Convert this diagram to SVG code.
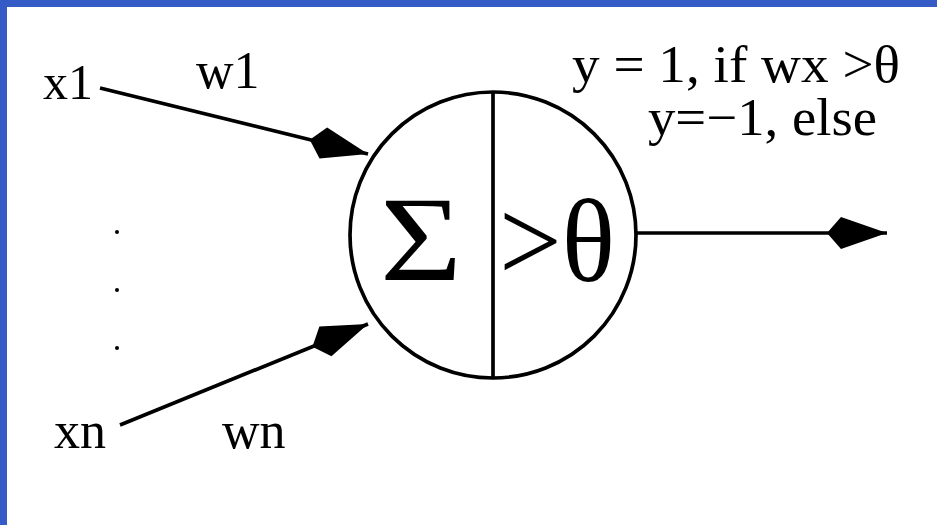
<svg xmlns="http://www.w3.org/2000/svg" width="937" height="525" viewBox="0 0 937 525">
<style>
.t{font-family:"Liberation Serif","Times New Roman",serif;fill:#000}
.c{stroke:#000;stroke-width:3.7;fill:none}
</style>
<defs>
<marker id="ah" markerUnits="userSpaceOnUse" markerWidth="64" markerHeight="40" refX="60" refY="20" orient="auto" viewBox="0 0 64 40">
<path d="M0,20 L14,4 L60,20 L14,36 Z" fill="#000"/>
</marker>
</defs>
<rect width="937" height="525" fill="#fff"/>
<rect x="0" y="0" width="937" height="7" fill="#355CC6"/>
<rect x="0" y="0" width="7" height="525" fill="#355CC6"/>
<g id="connectors">
<line class="c" x1="100" y1="88" x2="368" y2="154" marker-end="url(#ah)"/>
<line class="c" x1="120" y1="425" x2="368" y2="324" marker-end="url(#ah)"/>
<line class="c" x1="637" y1="233" x2="887" y2="233" marker-end="url(#ah)"/>
</g>
<g id="neuron">
<circle class="c" cx="493" cy="235" r="143"/>
<line class="c" x1="493" y1="92" x2="493" y2="378"/>
<text class="t" x="380" y="280" font-size="120" textLength="82" lengthAdjust="spacingAndGlyphs">Σ</text>
<text class="t" x="499" y="281" font-size="118" textLength="116" lengthAdjust="spacingAndGlyphs">&gt;θ</text>
</g>
<g id="inputs">
<text class="t" x="43" y="99" font-size="50">x1</text>
<text class="t" x="54" y="448" font-size="52">xn</text>
<circle cx="117" cy="232" r="2" fill="#000"/>
<circle cx="117" cy="290" r="2" fill="#000"/>
<circle cx="117" cy="348" r="2" fill="#000"/>
</g>
<g id="weights">
<text class="t" x="196" y="88" font-size="52">w1</text>
<text class="t" x="222" y="448" font-size="52">wn</text>
</g>
<g id="output-rule">
<text class="t" x="572" y="82" font-size="52" textLength="328" lengthAdjust="spacingAndGlyphs">y = 1, if wx &gt;θ</text>
<text class="t" x="648" y="135" font-size="52" textLength="229" lengthAdjust="spacingAndGlyphs">y=−1, else</text>
</g>
</svg>
